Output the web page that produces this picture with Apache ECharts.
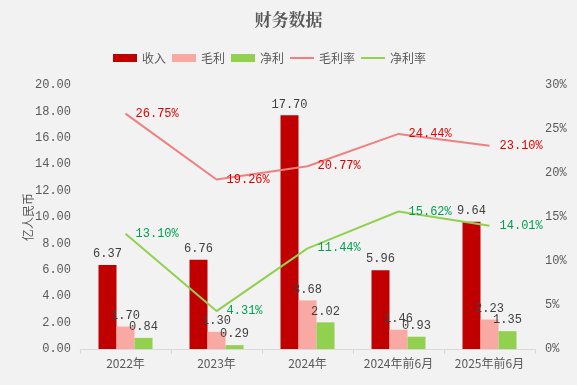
<!DOCTYPE html>
<html><head><meta charset="utf-8">
<script src="https://cdn.jsdelivr.net/npm/echarts@6/dist/echarts.min.js"></script>
<style>html,body{margin:0;padding:0;background:#f2f2f2}#c{width:577px;height:385px}</style>
</head><body><div id="c"></div>
<script>
var categories = ['2022年','2023年','2024年','2024年前6月','2025年前6月'];
var revenue = [6.37, 6.76, 17.70, 5.96, 9.64];
var grossProfit = [1.70, 1.30, 3.68, 1.46, 2.23];
var netProfit = [0.84, 0.29, 2.02, 0.93, 1.35];
var grossMargin = [26.75, 19.26, 20.77, 24.44, 23.10];
var netMargin = [13.10, 4.31, 11.44, 15.62, 14.01];
var leftTicks = {min: 0, max: 20, interval: 2};
var rightTicks = {min: 0, max: 30, interval: 5};

var cjk = '"Noto Sans CJK SC", sans-serif';
var mono = '"Liberation Mono", "Noto Sans CJK SC", monospace';
var lineIcon = 'path://M0,0 L24,0 L24,2 L0,2 Z';
var chart = echarts.init(document.getElementById('c'));
function barLabel(){ return {show:true, position:'top', color:'#404040', fontFamily:mono, fontSize:12, formatter:function(p){return p.value.toFixed(2);}}; }
chart.setOption({
  backgroundColor:'#f2f2f2',
  animation:false,
  title:{text:'财务数据', left:'center', top:6, textStyle:{color:'#595959', fontSize:17, fontWeight:'bold', fontFamily:'"Noto Serif CJK SC", '+cjk}},
  legend:{top:47, left:108, itemWidth:24, itemHeight:8, itemGap:6, textStyle:{color:'#595959', fontSize:12, fontFamily:cjk},
    data:[{name:'收入',icon:'rect'},{name:'毛利',icon:'rect'},{name:'净利',icon:'rect'},
      {name:'毛利率',icon:lineIcon},{name:'净利率',icon:lineIcon}]},
  grid:{left:80, right:42, top:85, bottom:36},
  xAxis:{type:'category', data:categories, axisLine:{lineStyle:{color:'#d9d9d9'}}, axisTick:{show:true, lineStyle:{color:'#d9d9d9'}},
    axisLabel:{color:'#595959', fontSize:12, fontFamily:cjk, margin:8}},
  yAxis:[
    {type:'value', min:leftTicks.min, max:leftTicks.max, interval:leftTicks.interval, name:'亿人民币', nameLocation:'middle', nameGap:46, nameRotate:90,
      nameMoveOverlap:false,
      nameTextStyle:{color:'#595959', fontSize:12, fontFamily:cjk},
      splitLine:{show:false}, axisLine:{show:false}, axisTick:{show:false},
      axisLabel:{color:'#595959', fontFamily:mono, fontSize:12, margin:9, formatter:function(v){return v.toFixed(2);}}},
    {type:'value', min:rightTicks.min, max:rightTicks.max, interval:rightTicks.interval, splitLine:{show:false}, axisLine:{show:false}, axisTick:{show:false},
      axisLabel:{color:'#595959', fontFamily:mono, fontSize:12, margin:10, formatter:'{value}%'}}
  ],
  series:[
    {name:'收入', type:'bar', data:revenue, barWidth:18, barGap:'0%', itemStyle:{color:'#c00000'}, label:barLabel()},
    {name:'毛利', type:'bar', data:grossProfit, barWidth:18, barGap:'0%', itemStyle:{color:'#f8a9a3'}, label:barLabel()},
    {name:'净利', type:'bar', data:netProfit, barWidth:18, barGap:'0%', itemStyle:{color:'#92d050'}, label:barLabel()},
    {name:'毛利率', type:'line', yAxisIndex:1, data:grossMargin, symbol:'circle', symbolSize:0.1, showSymbol:true, lineStyle:{color:'#f08080', width:2}, itemStyle:{color:'#f08080'},
      label:{show:true, position:'right', distance:10, color:'#e00000', fontFamily:mono, fontSize:12, formatter:function(p){return p.value.toFixed(2)+'%';}}},
    {name:'净利率', type:'line', yAxisIndex:1, data:netMargin, symbol:'circle', symbolSize:0.1, showSymbol:true, lineStyle:{color:'#92d050', width:2}, itemStyle:{color:'#92d050'},
      label:{show:true, position:'right', distance:10, color:'#00a050', fontFamily:mono, fontSize:12, formatter:function(p){return p.value.toFixed(2)+'%';}}}
  ]
});
</script></body></html>
